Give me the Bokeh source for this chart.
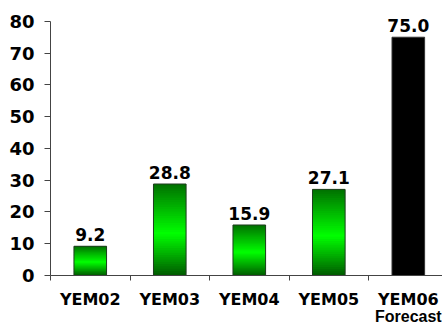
from bokeh.plotting import figure
from bokeh.models import FixedTicker, Range1d, LinearAxis, ColumnDataSource
from bokeh.core.properties import value
from bokeh.embed import file_html
from bokeh.resources import INLINE

categories = ["YEM02", "YEM03", "YEM04", "YEM05", "YEM06"]
values = [9.2, 28.8, 15.9, 27.1, 75.0]
labels = ["9.2", "28.8", "15.9", "27.1", "75.0"]
forecast_flags = [False, False, False, False, True]
sub_label = "Forecast"
y_ticks = [0, 10, 20, 30, 40, 50, 60, 70, 80]

FONT = "DejaVu Sans"
BAR_W = 0.41

p = figure(width=442, height=327, output_backend="svg", toolbar_location=None,
           x_range=Range1d(0, 4.93), y_range=Range1d(0, 85.3),
           min_border_left=50, min_border_right=0, min_border_top=4, min_border_bottom=0)
p.outline_line_color = None
p.xgrid.grid_line_color = None
p.ygrid.grid_line_color = None
p.background_fill_color = "white"
p.border_fill_color = "white"

# gradient bars: dark at top/bottom, bright green near middle
def lerp(c1, c2, t):
    return tuple(int(round(a + (b - a) * t)) for a, b in zip(c1, c2))

top_c = (0, 112, 0)
mid_c = (0, 255, 0)
bot_c = (0, 90, 0)
N = 40
bright_pos = 0.46  # fraction from bottom
xs_l, xs_r, ys_b, ys_t, cols = [], [], [], [], []
for i, (v, f) in enumerate(zip(values, forecast_flags)):
    if f:
        continue
    cx = i + 0.5
    for k in range(N):
        t = (k + 0.5) / N
        if t < bright_pos:
            c = lerp(bot_c, mid_c, t / bright_pos)
        else:
            c = lerp(mid_c, top_c, (t - bright_pos) / (1 - bright_pos))
        xs_l.append(cx - BAR_W / 2)
        xs_r.append(cx + BAR_W / 2)
        ys_b.append(v * k / N)
        ys_t.append(min(v, v * (k + 2) / N))
        cols.append("#%02x%02x%02x" % c)
p.quad(left=xs_l, right=xs_r, bottom=ys_b, top=ys_t, fill_color=cols, line_color=None)

# outlines / black bar
src = ColumnDataSource(dict(
    x=[i + 0.5 for i in range(len(values))],
    top=values,
    fill=[("black" if f else None) for f in forecast_flags],
    line=[("#333333" if f else "#1f3d1f") for f in forecast_flags],
))
p.vbar(x="x", top="top", bottom=0, width=BAR_W, source=src,
       fill_color="fill", line_color="line", line_width=1)

# value labels
p.text(x=[i + 0.5 for i in range(len(values))], y=values, text=labels,
       text_align="center", text_baseline="bottom", y_offset=-5,
       text_font=value(FONT), text_font_style="bold", text_font_size="17px",
       text_color="black")

# y axis
ya = p.yaxis[0]
ya.ticker = FixedTicker(ticks=y_ticks)
ya.bounds = (0, 80)
ya.axis_line_color = "#444444"
ya.major_tick_line_color = "#444444"
ya.major_tick_out = 6
ya.major_tick_in = 0
ya.minor_tick_line_color = None
ya.major_label_standoff = 10
ya.major_label_text_font = FONT
ya.major_label_text_font_style = "bold"
ya.major_label_text_font_size = "18px"
ya.major_label_text_color = "black"

# x axis: labels at centers, ticks at boundaries (minor ticks)
xa = p.xaxis[0]
centers = [i + 0.5 for i in range(len(categories))]
xa.ticker = FixedTicker(ticks=centers, minor_ticks=[0, 1, 2, 3, 4, 5])
xa.major_label_overrides = {c: cat for c, cat in zip(centers, categories)}
xa.axis_line_color = "#444444"
xa.major_tick_line_color = None
xa.major_tick_out = 0
xa.major_tick_in = 0
xa.minor_tick_line_color = "#444444"
xa.minor_tick_out = 5
xa.minor_tick_in = 0
xa.major_label_standoff = 9
xa.major_label_text_font = FONT
xa.major_label_text_font_style = "bold"
xa.major_label_text_font_size = "16px"
xa.major_label_text_color = "black"

# second axis below for the "Forecast" sub-label
fc = [c for c, f in zip(centers, forecast_flags) if f]
xb = LinearAxis(ticker=FixedTicker(ticks=fc, minor_ticks=[]),
                major_label_overrides={c: sub_label for c in fc})
xb.axis_line_color = None
xb.major_tick_line_color = None
xb.minor_tick_line_color = None
xb.major_tick_out = 0
xb.major_tick_in = 0
xb.minor_tick_out = 0
xb.major_label_standoff = -4
xb.major_label_text_font = "Liberation Sans"
xb.major_label_text_font_style = "bold"
xb.major_label_text_font_size = "16px"
xb.major_label_text_color = "black"
p.add_layout(xb, "below")

open("out.html", "w").write(file_html(p, INLINE))
